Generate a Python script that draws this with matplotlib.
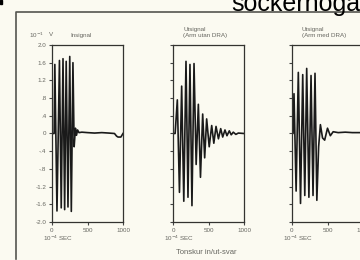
import matplotlib
matplotlib.use("Agg")
import matplotlib.pyplot as plt
from matplotlib.patches import Rectangle

W, H = 360, 260

# time axis in 10^-4 sec, amplitude in 10^-1 V
t_in = [0, 30, 40, 70, 105, 130, 155, 178, 200, 225, 250, 272, 295, 312,
        330, 345, 360, 380, 420, 500, 600, 700, 800, 880, 910, 930, 970, 985, 1000]
v_in = [0, 0, 1.56, -1.75, 1.65, -1.68, 1.69, -1.72, 1.63, -1.66, 1.74, -1.76, 1.60, -0.3,
        0.12, -0.04, 0.08, 0.02, 0.03, 0.02, 0.01, 0.02, 0.01, 0.0, -0.06, -0.08, -0.08, -0.04, 0]

t_utan = [0, 30, 61, 91, 122, 152, 183, 211, 239, 267, 296, 326, 357, 387, 418, 446,
          474, 510, 545, 575, 606, 640, 672, 700, 732, 760, 793, 820, 849, 885, 920, 1000]
v_utan = [0, 0, 0.76, -1.33, 1.07, -1.53, 1.63, -1.44, 1.56, -1.63, 1.58, -0.70, 0.66, -0.99,
          0.44, -0.55, 0.33, -0.30, 0.18, -0.22, 0.16, -0.12, 0.11, -0.08, 0.08, -0.05,
          0.06, -0.03, 0.03, -0.02, 0.01, 0]

t_med = [0, 15, 28, 58, 89, 120, 151, 180, 207, 238, 268, 296, 324, 350, 375, 400, 430,
         460, 500, 540, 580, 650, 750, 850, 1000]
v_med = [0, 0, 0.90, -1.30, 1.38, -1.58, 1.33, -1.40, 1.47, -1.44, 1.31, -1.40, 1.36, -1.51,
         -0.3, 0.2, -0.1, -0.15, 0.12, -0.05, 0.04, 0.02, 0.03, 0.02, 0.02]

yticks = [2.0, 1.6, 1.2, 0.8, 0.4, 0, -0.4, -0.8, -1.2, -1.6, -2.0]
ylabels = ["2.0", "1.6", "1.2", ".8", ".4", "0", "-.4", "-.8", "-1.2", "-1.6", "-2.0"]
xticks = [0, 500, 1000]
xlabels = ["0", "500", "1000"]

panels = [
    (52, t_in, v_in, ["Insignal"]),
    (173, t_utan, v_utan, ["Utsignal", "(Arm utan DRA)"]),
    (292, t_med, v_med, ["Utsignal", "(Arm med DRA)"]),
]

bg = "#fbfaf1"
txt = "#666660"

fig = plt.figure(figsize=(W / 100, H / 100), dpi=100, facecolor=bg)
plt.rcParams["font.family"] = ["Liberation Sans", "DejaVu Sans"]


def fx(x):
    return x / W


def fy(y):
    return 1 - y / H


# frame
frame = plt.Line2D([fx(16), fx(16), fx(362)], [fy(259), fy(12), fy(12)],
                   transform=fig.transFigure, color="#555550", lw=1.2)
fig.add_artist(frame)
fig.add_artist(Rectangle((0, fy(4)), fx(2), 4 / H, transform=fig.transFigure,
                         color="black"))
# page heading, cut off by the scan
fig.text(fx(231), fy(10.5), "sockerhoga", fontsize=18, color="black",
         ha="left", va="baseline")

for i, (x0, t, v, title) in enumerate(panels):
    ax = fig.add_axes([fx(x0), fy(222), 71 / W, 177 / H])
    ax.set_facecolor(bg)
    ax.plot(t, v, color="#1a1a1a", lw=1.2)
    ax.set_xlim(0, 1000)
    ax.set_ylim(-2.0, 2.0)
    ax.set_yticks(yticks)
    ax.set_xticks(xticks)
    ax.set_xticklabels(xlabels)
    if i == 0:
        ax.set_yticklabels(ylabels)
    else:
        ax.set_yticklabels([])
    ax.tick_params(direction="out", length=2, width=0.8, colors="#444",
                   labelsize=4.5, labelcolor=txt, pad=2)
    for s in ax.spines.values():
        s.set_color("#333330")
        s.set_linewidth(0.9)
    fig.text(fx(x0 - 9), fy(238), "10$^{-4}$ SEC", fontsize=4.5, color=txt,
             ha="left", va="center")
    if len(title) == 1:
        fig.text(fx(x0 + 18), fy(35), title[0], fontsize=4.5, color=txt,
                 ha="left", va="center")
    else:
        fig.text(fx(x0 + 10), fy(29), title[0], fontsize=4.5, color=txt,
                 ha="left", va="center")
        fig.text(fx(x0 + 10), fy(35), title[1], fontsize=4.5, color=txt,
                 ha="left", va="center")

fig.text(fx(29), fy(35), "10$^{-1}$", fontsize=4.5, color=txt, ha="left", va="center")
fig.text(fx(49), fy(35), "V", fontsize=4.5, color=txt, ha="left", va="center")
fig.text(fx(206), fy(253), "Tonskur in/ut-svar", fontsize=5.5, color=txt,
         ha="center", va="center")

fig.savefig("out.png", dpi=100, facecolor=bg)
